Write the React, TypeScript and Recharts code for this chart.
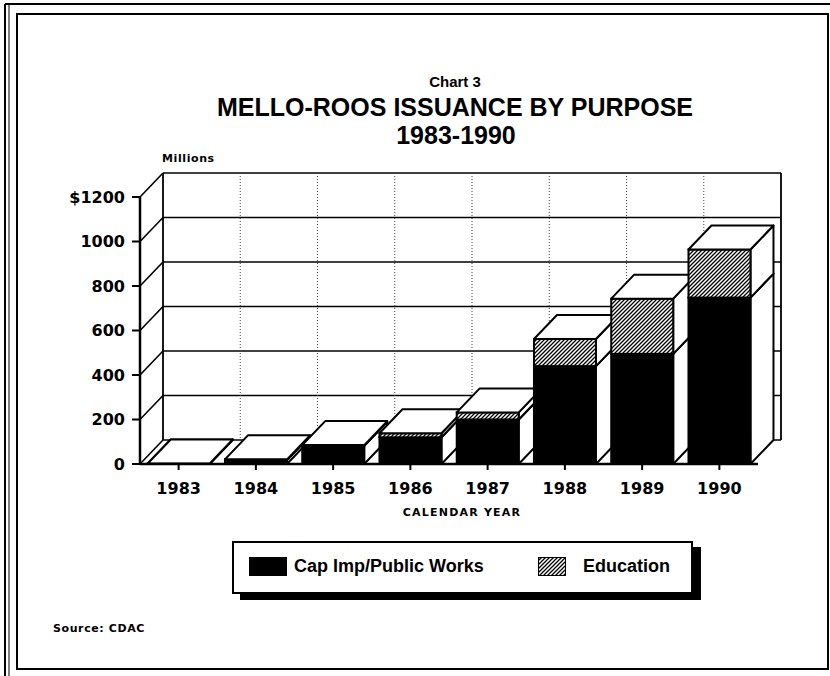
import React from 'react';
import { BarChart, Bar, XAxis, YAxis, CartesianGrid } from 'recharts';

// Mello-Roos issuance, $ millions
const YEARS = ['1983', '1984', '1985', '1986', '1987', '1988', '1989', '1990'];
const CAP_IMP = [2, 18, 82, 120, 200, 440, 495, 748];
const EDUCATION = [0, 3, 3, 18, 32, 122, 248, 216];
const Y_TICKS = [0, 200, 400, 600, 800, 1000, 1200];
const SERIES = ['Cap Imp/Public Works', 'Education'];

const W = 830;
const H = 676;
const MARGIN = { top: 197, right: 72, bottom: 182, left: 80 };
const PLOT_BOTTOM = H - MARGIN.bottom;
// oblique depth of the 3D boxes and of the back wall
const DX = 23;
const DY = 24;

const TITLE_FONT = '"Liberation Sans", Arial, Helvetica, sans-serif';
const TICK_FONT = '"DejaVu Sans", Verdana, sans-serif';

const chartData = YEARS.map((year, i) => ({
  year,
  cap: CAP_IMP[i],
  edu: EDUCATION[i],
  total: CAP_IMP[i] + EDUCATION[i],
  slot: i + 0.5,
}));

// category boundaries, used for the dotted lines on the back wall
const WALL_TICKS = Array.from({ length: YEARS.length + 1 }, (_, i) => i);

function box(x: number, top: number, w: number, h: number, fill: string) {
  const side = `${x + w},${top + h} ${x + w + DX},${top + h - DY} ${x + w + DX},${top - DY} ${x + w},${top}`;
  const lid = `${x},${top} ${x + DX},${top - DY} ${x + w + DX},${top - DY} ${x + w},${top}`;
  return (
    <g>
      <polygon points={side} fill="#fff" stroke="#000" strokeWidth={2} strokeLinejoin="round" />
      <rect x={x} y={top} width={w} height={Math.max(h, 0)} fill={fill} stroke="#000" strokeWidth={2} />
      <polygon points={lid} fill="#fff" stroke="#000" strokeWidth={2} strokeLinejoin="round" />
    </g>
  );
}

// one shape per year so that later years sit in front of earlier ones
const StackedBox = (props: any) => {
  const { x, y, width, height, payload } = props;
  const base = y + height;
  const capH = payload.total > 0 ? (height * payload.cap) / payload.total : 0;
  const capTop = base - capH;
  return (
    <g>
      {box(x, capTop, width, capH, '#000')}
      {box(x, y, width, capTop - y, 'url(#eduHatch)')}
    </g>
  );
};

const wallLine = (props: any) => {
  const { x1, y1, x2 } = props;
  const isFloor = Math.abs(y1 - PLOT_BOTTOM) < 1;
  return (
    <g key={`h-${y1}`}>
      <line x1={x1 + DX} y1={y1 - DY} x2={x2 + DX} y2={y1 - DY} stroke="#000" strokeWidth={1.6} />
      <line x1={x1} y1={y1} x2={x1 + DX} y2={y1 - DY} stroke="#000" strokeWidth={1.6} />
      {isFloor && <line x1={x2} y1={y1} x2={x2 + DX} y2={y1 - DY} stroke="#000" strokeWidth={1.6} />}
    </g>
  );
};

const wallDivider = (props: any) => {
  const { x1, y1, y2, index } = props;
  const edge = index === 0 || index === WALL_TICKS.length - 1;
  return (
    <line
      key={`v-${index}`}
      x1={x1 + DX}
      y1={y1 - DY}
      x2={x1 + DX}
      y2={y2 - DY}
      stroke={edge ? '#000' : '#444'}
      strokeWidth={edge ? 1.8 : 1}
      strokeDasharray={edge ? undefined : '1 2'}
    />
  );
};

const LegendBox = () => (
  <div
    style={{
      position: 'absolute',
      left: 232,
      top: 541,
      width: 461,
      height: 53,
      boxSizing: 'border-box',
      border: '2px solid #000',
      background: '#fff',
      boxShadow: '8px 6px 0 #000',
      fontFamily: TITLE_FONT,
      fontWeight: 'bold',
      fontSize: 18,
      color: '#000',
    }}
  >
    <div style={{ position: 'absolute', left: 15, top: 14, width: 38, height: 19, background: '#000' }} />
    <span style={{ position: 'absolute', left: 60, top: 13, whiteSpace: 'nowrap' }}>{SERIES[0]}</span>
    <svg style={{ position: 'absolute', left: 304, top: 14 }} width={28} height={19}>
      <defs>
        <pattern id="legendHatch" width={4} height={4} patternUnits="userSpaceOnUse">
          <rect width={4} height={4} fill="#fff" />
          <path d="M-1,1 l2,-2 M0,4 l4,-4 M3,5 l2,-2" stroke="#000" strokeWidth={1.3} />
        </pattern>
      </defs>
      <rect x={0.5} y={0.5} width={27} height={18} fill="url(#legendHatch)" stroke="#000" />
    </svg>
    <span style={{ position: 'absolute', left: 349, top: 13, whiteSpace: 'nowrap' }}>{SERIES[1]}</span>
  </div>
);

const tickStyle = { fontFamily: TICK_FONT, fontWeight: 'bold', fontSize: 16, fill: '#000' };

export default function App() {
  return (
    <div style={{ position: 'absolute', left: 0, top: 0, width: W, height: H, background: '#fff' }}>
      <BarChart width={W} height={H} data={chartData} margin={MARGIN} barCategoryGap="10%">
        <defs>
          <pattern id="eduHatch" width={4} height={4} patternUnits="userSpaceOnUse">
            <rect width={4} height={4} fill="#fff" />
            <path d="M-1,1 l2,-2 M0,4 l4,-4 M3,5 l2,-2" stroke="#000" strokeWidth={1.3} />
          </pattern>
        </defs>
        <CartesianGrid xAxisId="wall" horizontal={wallLine} vertical={wallDivider} />
        <XAxis
          xAxisId="wall"
          dataKey="slot"
          type="number"
          domain={[0, YEARS.length]}
          ticks={WALL_TICKS}
          allowDataOverflow
          hide
        />
        <XAxis
          dataKey="year"
          height={30}
          tick={tickStyle}
          tickSize={6}
          tickMargin={13}
          axisLine={{ stroke: '#000', strokeWidth: 2.5 }}
          tickLine={{ stroke: '#000', strokeWidth: 2 }}
        />
        <YAxis
          width={60}
          domain={[0, 1200]}
          ticks={Y_TICKS}
          tick={tickStyle}
          tickSize={8}
          tickMargin={7}
          tickFormatter={(v: number) => (v === 1200 ? `$${v}` : `${v}`)}
          axisLine={{ stroke: '#000', strokeWidth: 2.5 }}
          tickLine={{ stroke: '#000', strokeWidth: 2 }}
        />
        <Bar dataKey="total" shape={StackedBox} isAnimationActive={false} />
      </BarChart>
      <LegendBox />
      <svg
        width={W}
        height={H}
        style={{ position: 'absolute', left: 0, top: 0, pointerEvents: 'none' }}
      >
        <line x1={5} y1={4} x2={W} y2={4} stroke="#000" strokeWidth={2} />
        <line x1={5} y1={4} x2={5} y2={H} stroke="#000" strokeWidth={2} />
        <line x1={9} y1={4} x2={9} y2={H} stroke="#000" strokeWidth={1} />
        <rect x={17} y={14} width={811} height={655} fill="none" stroke="#000" strokeWidth={2} />
        <g fontFamily={TITLE_FONT} fontWeight="bold" fill="#000" textAnchor="middle">
          <text x={455} y={87} fontSize={15}>Chart 3</text>
          <text x={455} y={116} fontSize={25}>MELLO-ROOS ISSUANCE BY PURPOSE</text>
          <text x={456} y={144} fontSize={25}>1983-1990</text>
        </g>
        <g fontFamily={TICK_FONT} fontWeight="bold" fill="#000">
          <text x={162} y={162} fontSize={11} letterSpacing={0.6}>Millions</text>
          <text x={462} y={516} fontSize={11} letterSpacing={1.2} textAnchor="middle">CALENDAR YEAR</text>
          <text x={53} y={632} fontSize={11} letterSpacing={0.6}>Source: CDAC</text>
        </g>
      </svg>
    </div>
  );
}
